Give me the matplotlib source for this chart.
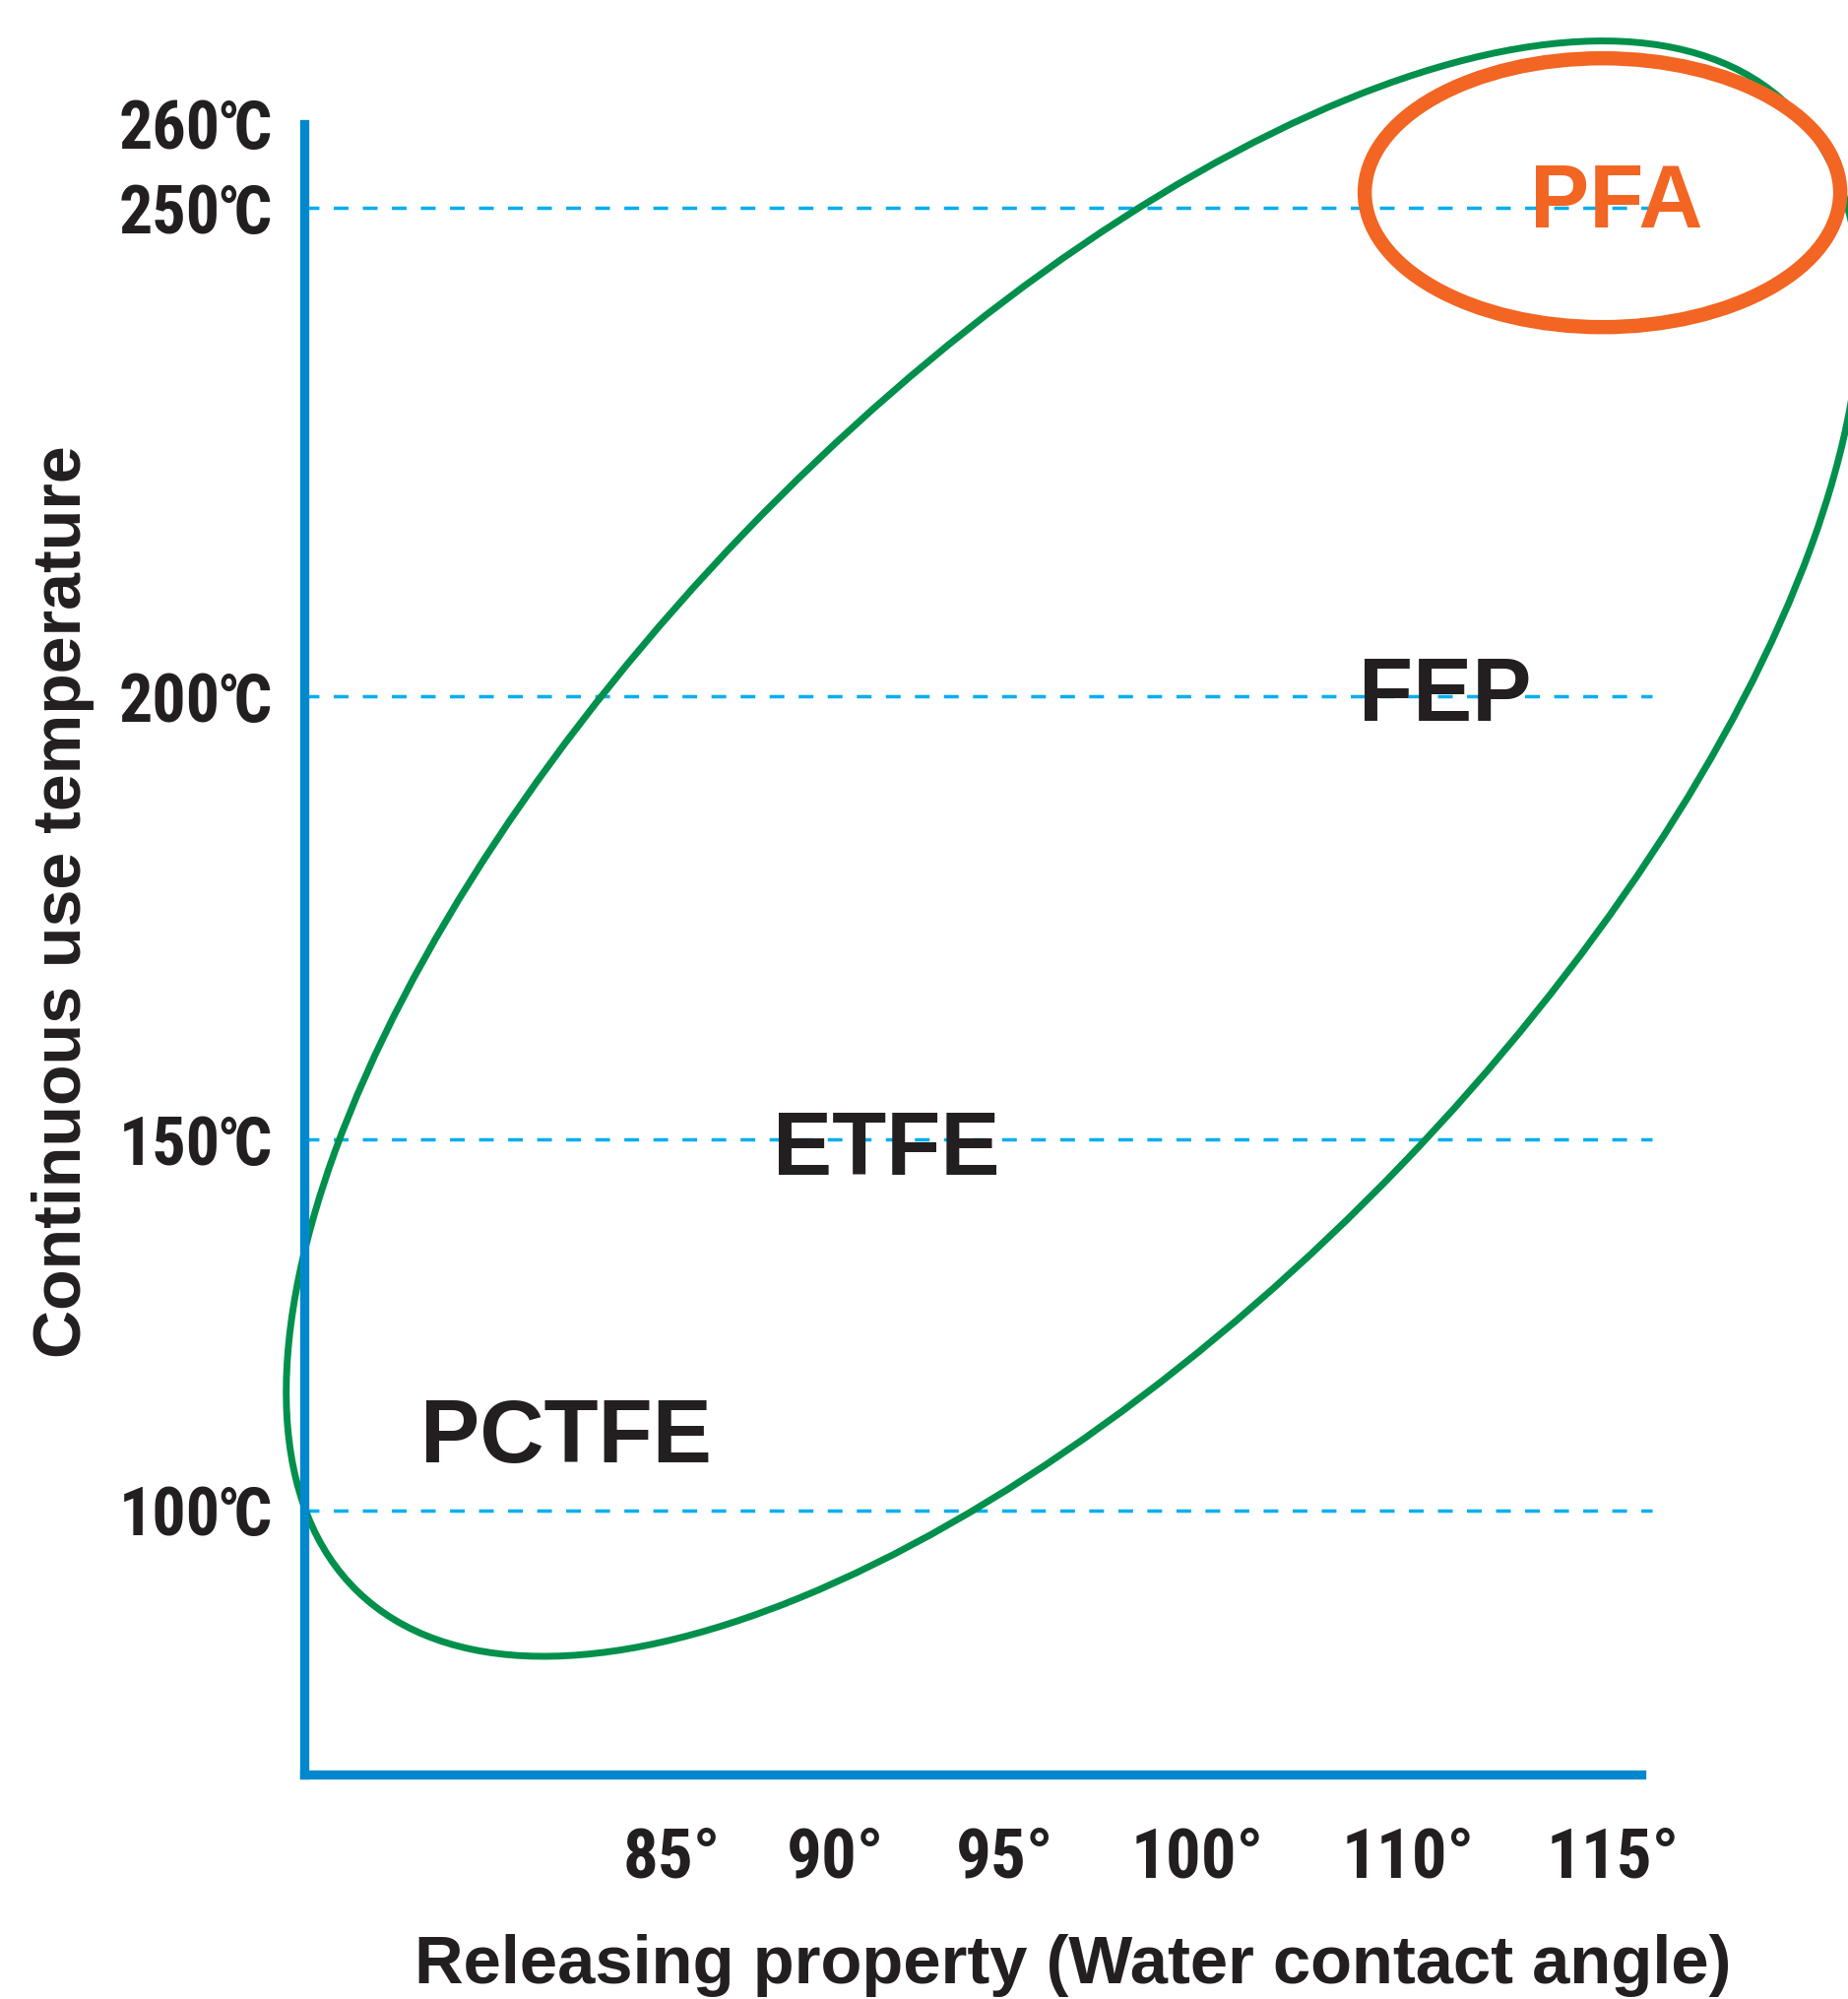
import numpy as np
import matplotlib
matplotlib.use('Agg')
import matplotlib.pyplot as plt
from matplotlib import font_manager
from matplotlib.patches import Ellipse
from matplotlib.transforms import IdentityTransform

# Axis ticks
angles = [85, 90, 95, 100, 110, 115]
angle_labels = ['85°', '90°', '95°', '100°', '110°', '115°']
temps = [100, 150, 200, 250, 260]
temp_labels = ['100℃', '150℃', '200℃', '250℃', '260℃']
grid_temps = [100, 150, 200, 250]

# Materials, placed at (contact angle, temperature)
materials = ['PCTFE', 'ETFE', 'FEP', 'PFA']
mat_angle = [81.8, 91.5, 110.9, 115.1]
mat_temp = [106.5, 145.2, 197.2, 248.0]

# The original axes are not evenly spaced: offset (px) of every tick along its axis
angle_px = [373, 540, 712, 907, 1121, 1329]
temp_px = [268, 645, 1095, 1591, 1676]
W, H = 1877, 2030
ax_left, ax_bottom, ax_w, ax_h = 309, 228, 1358, 1676

BLUE = '#0088CE'
DASH = '#00AEEF'
GREEN = '#00904C'
ORANGE = '#F26522'
INK = '#231F20'

names = {f.name for f in font_manager.fontManager.ttflist}
narrow = [n for n in ('Liberation Sans Narrow', 'Roboto Condensed') if n in names]
plt.rcParams['font.family'] = ['Liberation Sans', 'DejaVu Sans']
plt.rcParams['font.weight'] = 'bold'
tick_family = narrow[:1] + ['Liberation Sans', 'DejaVu Sans']


def piecewise(src, dst):
    # piecewise linear map with linear extrapolation at both ends
    src = np.asarray(src, float)
    dst = np.asarray(dst, float)
    lo = (dst[1] - dst[0]) / (src[1] - src[0])
    hi = (dst[-1] - dst[-2]) / (src[-1] - src[-2])

    def f(v):
        v = np.asarray(v, float)
        out = np.interp(v, src, dst)
        out = np.where(v < src[0], dst[0] + (v - src[0]) * lo, out)
        return np.where(v > src[-1], dst[-1] + (v - src[-1]) * hi, out)
    return f


fig = plt.figure(figsize=(W / 100, H / 100), dpi=100)
ax = fig.add_axes([ax_left / W, ax_bottom / H, ax_w / W, ax_h / H])

ax.set_xscale('function', functions=(piecewise(angles, angle_px), piecewise(angle_px, angles)))
ax.set_yscale('function', functions=(piecewise(temps, temp_px), piecewise(temp_px, temps)))
x_inv = piecewise(angle_px, angles)
y_inv = piecewise(temp_px, temps)
ax.set_xlim(float(x_inv(0)), float(x_inv(ax_w)))
ax.set_ylim(float(y_inv(0)), float(y_inv(ax_h)))

# Axes frame
for side in ('top', 'right'):
    ax.spines[side].set_visible(False)
for side in ('left', 'bottom'):
    ax.spines[side].set_color(BLUE)
    ax.spines[side].set_linewidth(6.7)
ax.spines['bottom'].set_capstyle('projecting')

ax.set_xticks(angles, labels=angle_labels)
ax.set_yticks(temps, labels=temp_labels)
ax.minorticks_off()
ax.tick_params(axis='x', length=0, pad=37, labelsize=51, labelcolor=INK)
ax.tick_params(axis='y', length=0, pad=23, labelsize=49, labelcolor=INK)
for lab in ax.get_xticklabels() + ax.get_yticklabels():
    lab.set_family(tick_family)
    lab.set_fontweight('bold')

# Dashed reference lines
for t in grid_temps:
    ax.axhline(t, xmin=0, xmax=1.008, color=DASH, lw=2.5,
               ls=(0, (4.3, 4.2)), clip_on=False, zorder=1)

# Outline ellipses (sizes in pixels, centres in data units)
gx, gy = ax.transData.transform((96.77, 182.8))
ax.add_patch(Ellipse((gx, gy), 2095, 926, angle=46.1, transform=IdentityTransform(),
                     fill=False, ec=GREEN, lw=5.0, clip_on=False, zorder=2))
ox, oy = ax.transData.transform((114.75, 251.8))
ax.add_patch(Ellipse((ox, oy), 483, 273, angle=0, transform=IdentityTransform(),
                     fill=False, ec=ORANGE, lw=10.4, clip_on=False, zorder=3))

# Material labels
for name, a, t in zip(materials, mat_angle, mat_temp):
    ax.text(a, t, name, ha='center', va='baseline', fontsize=65, fontweight='bold',
            color=ORANGE if name == 'PFA' else INK, zorder=4)

ax.set_xlabel('Releasing property (Water contact angle)', fontsize=49.5,
              fontweight='bold', color=INK, va='baseline')
ax.xaxis.set_label_coords(0.5751, -0.1265)
ax.set_ylabel('Continuous use temperature', fontsize=49, fontweight='bold',
              color=INK, va='baseline')
ax.yaxis.set_label_coords(-0.1672, 0.5286)

fig.savefig('out.png', dpi=100)
